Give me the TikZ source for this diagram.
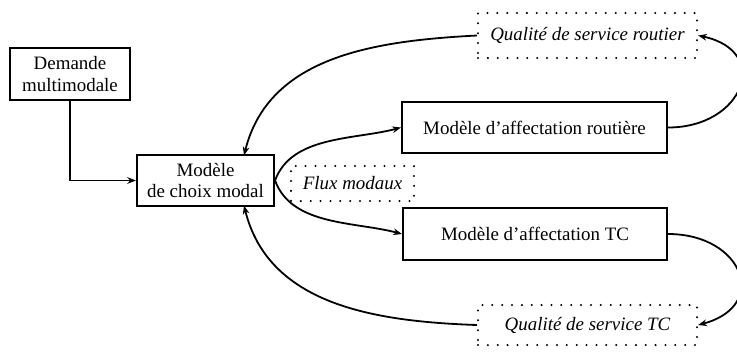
\documentclass[tikz,border=0pt]{standalone}
\usepackage{fontspec}
\setmainfont{Liberation Serif}
\usetikzlibrary{arrows.meta}
\begin{document}
\begin{tikzpicture}[x=0.75pt,y=-0.75pt,
  every node/.style={font=\fontsize{14.2}{16}\selectfont, align=center, inner sep=0pt},
  box/.style={draw, line width=1.6pt},
  dotbox/.style={draw, line width=1.7pt, dash pattern=on 0pt off 7.4pt, line cap=round, font=\fontsize{14.2}{16}\selectfont\itshape},
  conn/.style={line width=1.35pt, -{Stealth[length=6.5pt,width=5pt]}}
]
\useasboundingbox (0,0) rectangle (737,351);
\node[box, minimum width=90pt, minimum height=39pt] (dem) at (70,74) {Demande\\multimodale};
\node[box, minimum width=102.75pt, minimum height=38.25pt] (choix) at (205.5,180.5) {Modèle\\de choix modal};
\node[box, minimum width=198.75pt, minimum height=38.25pt] (rout) at (534.5,127.5) {Modèle d’affectation routière};
\node[box, minimum width=198pt, minimum height=39pt] (tc) at (535,234) {Modèle d’affectation TC};
\node[dotbox, minimum width=92.25pt, minimum height=26.25pt] (flux) at (352.5,183.5) {Flux modaux};
\node[dotbox, minimum width=164.25pt, minimum height=33.75pt] (qr) at (587.5,35.5) {Qualité de service routier};
\node[dotbox, minimum width=164.25pt, minimum height=30pt] (qtc) at (587.5,325) {Qualité de service TC};
\coordinate (cn) at (244,155.4);
\coordinate (cs) at (244,205.6);
\draw[conn] (dem.south) |- (choix.west);
\draw[conn] (qr.west) to[out=183,in=76] (cn);
\draw[conn] (qtc.west) to[out=178,in=-76] (cs);
\draw[conn] (choix.east) to[out=70,in=195,looseness=0.9] (rout.west);
\draw[conn] (choix.east) to[out=-70,in=165,looseness=0.9] (tc.west);
\draw[conn] (rout.east) to[out=0,in=-12,looseness=2.0] (qr.east);
\draw[conn] (tc.east) to[out=0,in=15,looseness=2.0] (qtc.east);
\end{tikzpicture}
\end{document}
